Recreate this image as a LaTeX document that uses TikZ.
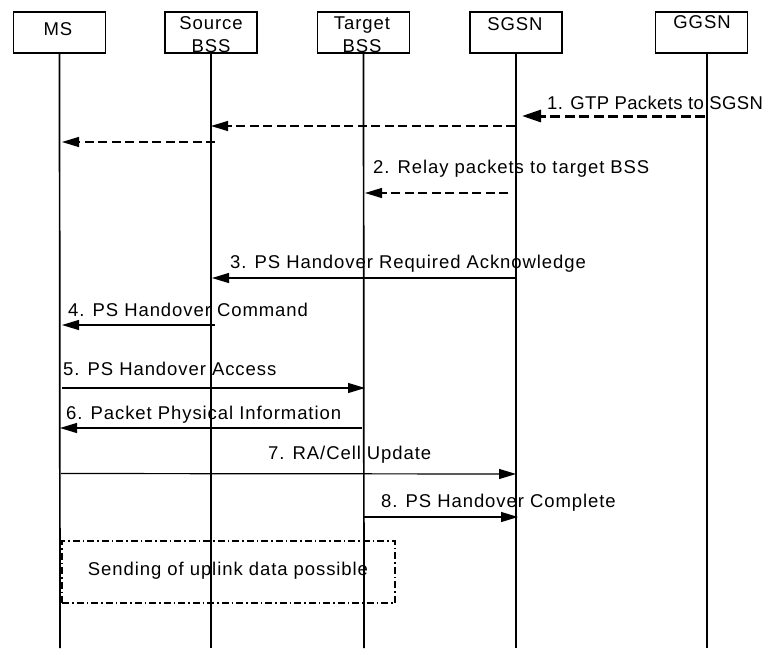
\documentclass[tikz,border=0pt]{standalone}
\usepackage{fontspec}
\setmainfont{Liberation Sans}[LetterSpace=5]
\usetikzlibrary{arrows.meta}
\begin{document}
\begin{tikzpicture}[x=1pt,y=-1pt,
  every node/.style={font=\fontsize{18.5}{22.5}\selectfont},
  entity/.style={draw,line width=1.7pt,minimum width=92pt,minimum height=41pt,inner sep=0pt},
  life/.style={line width=1.7pt},
  lbl/.style={anchor=base west,inner sep=0pt},
  ctr/.style={anchor=base,inner sep=0pt},
  msg/.style={line width=1.2pt,-{Triangle[length=17pt,width=10pt]}},
  dmsg/.style={msg,dash pattern=on 9pt off 4.5pt},
  gtp/.style={line width=3pt,dash pattern=on 10pt off 4.5pt,-{Triangle[length=19pt,width=12pt]}},
  dashdotbox/.style={draw,line width=1.2pt,dash pattern=on 7pt off 3pt on 1.5pt off 3pt,minimum width=333pt,minimum height=62pt,inner sep=0pt}]
\useasboundingbox (0,0) rectangle (773,648);
% entity boxes
\node[entity] (ms)  at (59.5,32.5) {};
\node[entity] (src) at (211,32.5) {};
\node[entity] (tgt) at (363.5,32.5) {};
\node[entity] (sgsn) at (516,32.5) {};
\node[entity] (ggsn) at (701.5,32.5) {};
\node[ctr] (mst) at (58,35) {MS};
\node[ctr] (srct1) at (211,29.5) {Source};
\node[ctr] (srct2) at (211,52) {BSS};
\node[ctr] (tgtt1) at (362,29.5) {Target};
\node[ctr] (tgtt2) at (362,52) {BSS};
\node[ctr] (sgsnt) at (515,30) {SGSN};
\node[ctr] (ggsnt) at (702,28) {GGSN};
% lifelines
\coordinate (msb) at (60,648);
\coordinate (srcb) at (211,648);
\coordinate (tgtb) at (364,648);
\coordinate (sgsnb) at (516,648);
\coordinate (ggsntop) at (707,53);
\coordinate (ggsnb) at (707,648);
\draw[life] (ms.south) -- (msb);
\draw[life] (src.south) -- (srcb);
\draw[life] (tgt.south) -- (tgtb);
\draw[life] (sgsn.south) -- (sgsnb);
\draw[life] (ggsntop) -- (ggsnb);
% message end points
\coordinate (m1a) at (705,116);  \coordinate (m1b) at (522,116);
\coordinate (m1c) at (515,126);  \coordinate (m1d) at (211,126);
\coordinate (m1e) at (215,142);  \coordinate (m1f) at (62,142);
\coordinate (m2a) at (508,193);  \coordinate (m2b) at (365,193);
\coordinate (m3a) at (516,278);  \coordinate (m3b) at (212,278);
\coordinate (m4a) at (215,325);  \coordinate (m4b) at (62,325);
\coordinate (m5a) at (62,388);   \coordinate (m5b) at (365,388);
\coordinate (m6a) at (362,428);  \coordinate (m6b) at (60,428);
\coordinate (m7a) at (61,473.5); \coordinate (m7b) at (516,474);
\coordinate (m8a) at (363,517);  \coordinate (m8b) at (518,517);
% messages
\draw[gtp] (m1a) -- (m1b);
\draw[dmsg] (m1c) -- (m1d);
\draw[dmsg] (m1e) -- (m1f);
\draw[dmsg] (m2a) -- (m2b);
\draw[msg] (m3a) -- (m3b);
\draw[msg] (m4a) -- (m4b);
\draw[msg] (m5a) -- (m5b);
\draw[msg] (m6a) -- (m6b);
\draw[msg] (m7a) -- (m7b);
\draw[msg] (m8a) -- (m8b);
% labels
\node[lbl] (l1) at (547,109) {\addfontfeature{LetterSpace=2}1. GTP Packets to SGSN};
\node[lbl] (l2) at (373,173) {2. Relay packets to target BSS};
\node[lbl] (l3) at (230,268) {3. PS Handover Required Acknowledge};
\node[lbl] (l4) at (68,316) {4. PS Handover Command};
\node[lbl] (l5) at (63,375) {5. PS Handover Access};
\node[lbl] (l6) at (66,419.5) {6. Packet Physical Information};
\node[lbl] (l7) at (268,459) {7. RA/Cell Update};
\node[lbl] (l8) at (381,507) {8. PS Handover Complete};
% uplink box
\node[dashdotbox] (upl) at (228.5,572) {};
\node[ctr] (uplt) at (228,575) {Sending of uplink data possible};
\end{tikzpicture}
\end{document}
